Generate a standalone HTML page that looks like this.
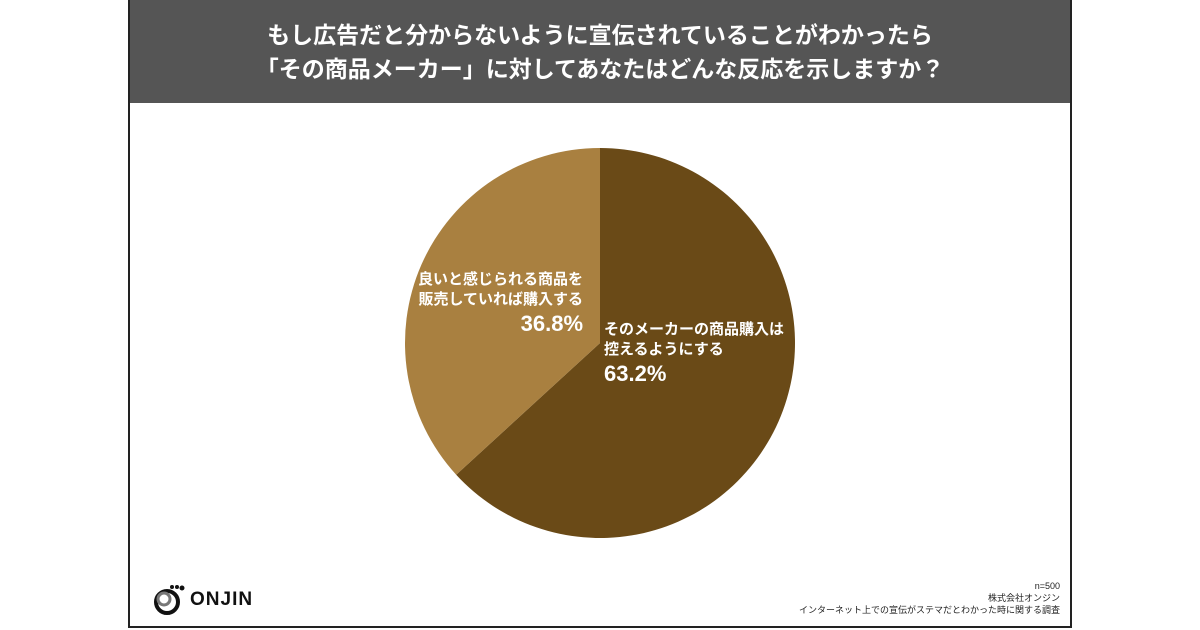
<!DOCTYPE html>
<html><head><meta charset="utf-8"><style>
body{margin:0;width:1200px;height:630px;background:#fff;font-family:"Liberation Sans","Noto Sans CJK JP",sans-serif;overflow:hidden;position:relative}
#card{position:absolute;left:128px;top:0;width:940px;height:626px;border:2px solid #222;border-top:none}
#hdr{position:absolute;left:0;top:0;width:940px;height:103px;background:#555;color:#fff;text-align:center;font-size:23px;font-weight:bold;line-height:34px;padding-top:18px;box-sizing:border-box}
.lbl{position:absolute;color:#fff;font-weight:bold;font-size:15px;line-height:20px}
.pct{font-size:22px;line-height:28px}
#foot{position:absolute;right:10px;bottom:10px;text-align:right;font-size:9px;line-height:12px;color:#222}
</style></head><body>
<div id="card">
<div id="hdr">もし広告だと分からないように宣伝されていることがわかったら<br>「その商品メーカー」に対してあなたはどんな反応を示しますか？</div>
<div id="foot">n=500<br>株式会社オンジン<br>インターネット上での宣伝がステマだとわかった時に関する調査</div>
<div style="position:absolute;left:22px;top:583px;display:flex;align-items:center">
<svg width="34" height="34" viewBox="0 0 34 34"><circle cx="15" cy="19" r="11" fill="none" stroke="#111" stroke-width="4"/><circle cx="12" cy="16" r="6" fill="none" stroke="#777" stroke-width="3"/><circle cx="20" cy="4" r="2" fill="#111"/><circle cx="25" cy="4" r="2" fill="#111"/><circle cx="30" cy="5" r="2.5" fill="#111"/></svg>
<span style="font-size:19px;font-weight:bold;letter-spacing:1px;margin-left:4px;color:#111">ONJIN</span></div>
</div>
<svg id="pie" width="1200" height="630" style="position:absolute;left:0;top:0"></svg>
<div class="lbl" style="left:418px;top:270px;text-align:right">良いと感じられる商品を<br>販売していれば購入する<br><span class="pct">36.8%</span></div>
<div class="lbl" style="left:604px;top:320px">そのメーカーの商品購入は<br>控えるようにする<br><span class="pct">63.2%</span></div>
<script>
const categories=["そのメーカーの商品購入は控えるようにする","良いと感じられる商品を販売していれば購入する"];
const values=[63.2,36.8];
const colors=["#6a4a17","#a98040"];
const svg=document.getElementById('pie');
const cx=600,cy=343,r=195;
const total=values.reduce((a,b)=>a+b,0);
let a0=0;
values.forEach((v,i)=>{
const a1=a0+v/total*2*Math.PI;
const x0=cx+r*Math.sin(a0),y0=cy-r*Math.cos(a0),x1=cx+r*Math.sin(a1),y1=cy-r*Math.cos(a1);
const p=document.createElementNS('http://www.w3.org/2000/svg','path');
p.setAttribute('d',`M${cx},${cy}L${x0},${y0}A${r},${r} 0 ${a1-a0>Math.PI?1:0} 1 ${x1},${y1}Z`);
p.setAttribute('fill',colors[i]);


svg.appendChild(p);
a0=a1;
});
</script>
</body></html>
